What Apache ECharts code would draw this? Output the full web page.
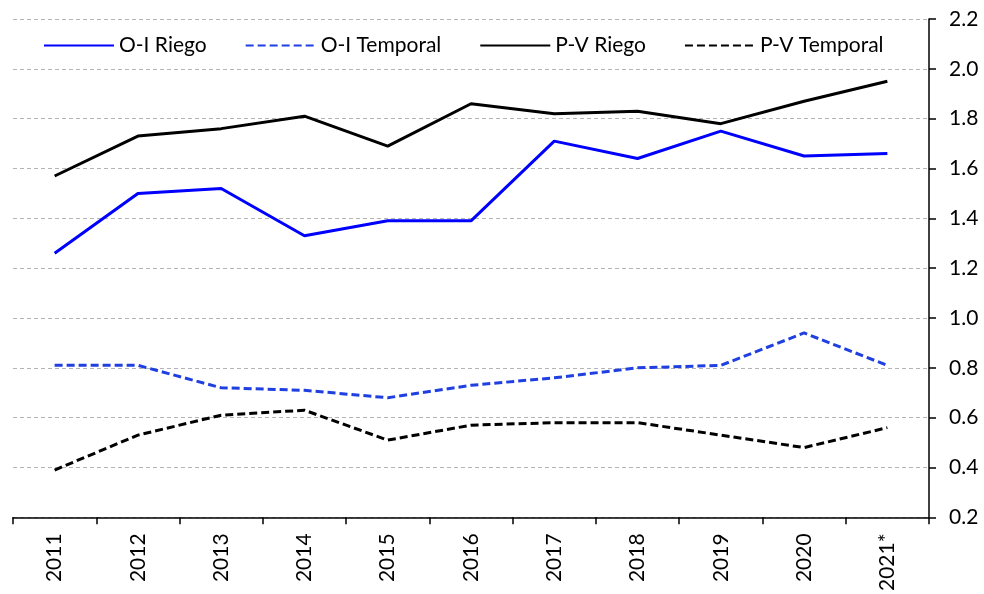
<!DOCTYPE html>
<html>
<head>
<meta charset="utf-8">
<script src="https://cdn.jsdelivr.net/npm/echarts@6/dist/echarts.min.js"></script>
<style>
html,body{margin:0;padding:0;background:#fff;}
#main{width:984px;height:594px;}
</style>
</head>
<body>
<div id="main"></div>
<script>
const categories = ['2011','2012','2013','2014','2015','2016','2017','2018','2019','2020','2021*'];
const oiRiego    = [1.26,1.50,1.52,1.33,1.39,1.39,1.71,1.64,1.75,1.65,1.66];
const oiTemporal = [0.81,0.81,0.72,0.71,0.68,0.73,0.76,0.80,0.81,0.94,0.81];
const pvRiego    = [1.57,1.73,1.76,1.81,1.69,1.86,1.82,1.83,1.78,1.87,1.95];
const pvTemporal = [0.39,0.53,0.61,0.63,0.51,0.57,0.58,0.58,0.53,0.48,0.56];
const yTicks = { min: 0.2, max: 2.2, interval: 0.2 };
const seriesNames = ['O-I Riego','O-I Temporal','P-V Riego','P-V Temporal'];

const FONT = 'Lato';
const chart = echarts.init(document.getElementById('main'));
function mk(name, data, color, dashed) {
  return {
    name: name, type: 'line', data: data, symbol: 'none',
    lineStyle: { color: color, width: 3, type: dashed ? [8, 4] : 'solid' },
    itemStyle: { color: color },
    animation: false
  };
}
chart.setOption({
  backgroundColor: '#fff',
  animation: false,
  textStyle: { fontFamily: FONT },
  grid: { left: 13, right: 55, top: 19, bottom: 75 },
  legend: {
    top: 30, left: 38, itemWidth: 70, itemHeight: 14, itemGap: 38,
    itemStyle: { opacity: 0 },
    textStyle: { fontFamily: FONT, fontSize: 21, color: '#000' },
    data: seriesNames
  },
  xAxis: {
    type: 'category', data: categories, boundaryGap: true,
    axisLine: { lineStyle: { color: '#000', width: 1.5 } },
    axisTick: { show: true, length: 7, lineStyle: { color: '#000', width: 1.5 } },
    axisLabel: { rotate: 90, margin: 16, fontFamily: FONT, fontSize: 21, color: '#000' },
    splitLine: { show: false }
  },
  yAxis: {
    type: 'value', position: 'right', min: yTicks.min, max: yTicks.max, interval: yTicks.interval,
    axisLine: { show: true, lineStyle: { color: '#000', width: 1.5 } },
    axisTick: { show: true, length: 7, lineStyle: { color: '#000', width: 1.5 } },
    axisLabel: { margin: 20, fontFamily: FONT, fontSize: 21, color: '#000',
      formatter: v => v.toFixed(1) },
    splitLine: { show: true, lineStyle: { color: '#b4b4b4', type: [4, 3], width: 1 } }
  },
  series: [
    mk(seriesNames[0], oiRiego, '#0000ff', false),
    mk(seriesNames[1], oiTemporal, '#1f3fe0', true),
    mk(seriesNames[2], pvRiego, '#000000', false),
    mk(seriesNames[3], pvTemporal, '#000000', true)
  ]
});
</script>
</body>
</html>
